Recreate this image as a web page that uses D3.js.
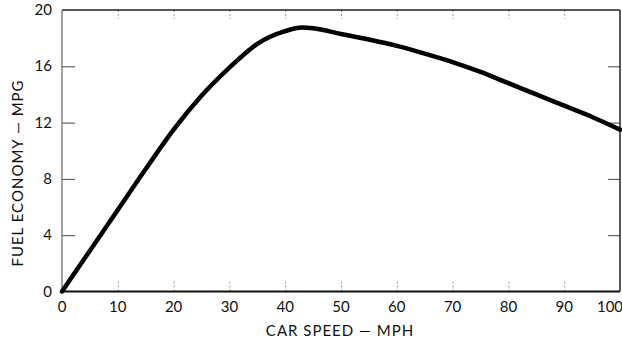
<!DOCTYPE html>
<html>
<head>
<meta charset="utf-8" />
<title>Fuel economy vs car speed</title>
<style>
  body { margin: 0; background: #fff; }
  svg text { font-family: "Lato", "DejaVu Sans", sans-serif; fill: #111; }
</style>
</head>
<body>
<svg width="622" height="343"></svg>
<script src="https://cdn.jsdelivr.net/npm/d3@7"></script>
<script>
// values
var speeds = [0, 5, 10, 15, 20, 25, 30, 35, 40, 43, 45, 50, 55, 60, 65, 70, 75, 80, 85, 90, 95, 100];
var mpg    = [0, 2.9, 5.8, 8.7, 11.5, 13.9, 15.9, 17.6, 18.5, 18.75, 18.7, 18.3, 17.9, 17.45, 16.9, 16.3, 15.6, 14.8, 14.0, 13.2, 12.4, 11.5];
var xTicks = [0, 10, 20, 30, 40, 50, 60, 70, 80, 90, 100];
var yTicks = [0, 4, 8, 12, 16, 20];
var xTitle = "CAR SPEED \u2014 MPH";
var yTitle = "FUEL ECONOMY \u2014 MPG";

// plot box (window.top is reserved, so use other names)
var pLeft = 62, pRight = 620, pTop = 10, pBottom = 291.5;

var svg = d3.select("svg");

var x = d3.scaleLinear().domain([0, 100]).range([pLeft, pRight]);
var y = d3.scaleLinear().domain([0, 20]).range([pBottom, pTop]);

// inner tick marks (faint on top/bottom, solid on sides)
var inner = [10, 20, 30, 40, 50, 60, 70, 80, 90];
var innerY = [4, 8, 12, 16];

svg.append("g")
    .attr("transform", "translate(0," + pBottom + ")")
    .call(d3.axisBottom(x).tickValues(inner).tickSize(-10).tickFormat(""))
    .call(function (g) { g.select(".domain").remove(); })
    .selectAll("line").attr("stroke", "#999").attr("stroke-dasharray", "2,2");

svg.append("g")
    .attr("transform", "translate(0," + pTop + ")")
    .call(d3.axisTop(x).tickValues(inner).tickSize(-9).tickFormat(""))
    .call(function (g) { g.select(".domain").remove(); })
    .selectAll("line").attr("stroke", "#999").attr("stroke-dasharray", "2,2");

svg.append("g")
    .attr("transform", "translate(" + pLeft + ",0)")
    .call(d3.axisLeft(y).tickValues(innerY).tickSize(-13).tickFormat(""))
    .call(function (g) { g.select(".domain").remove(); })
    .selectAll("line").attr("stroke", "#444");

svg.append("g")
    .attr("transform", "translate(" + pRight + ",0)")
    .call(d3.axisRight(y).tickValues(innerY).tickSize(-12).tickFormat(""))
    .call(function (g) { g.select(".domain").remove(); })
    .selectAll("line").attr("stroke", "#444");

// frame
svg.append("line").attr("x1", pLeft).attr("x2", pRight).attr("y1", pTop).attr("y2", pTop)
    .attr("stroke", "#222").attr("stroke-width", 1.5);
svg.append("line").attr("x1", pLeft).attr("x2", pRight).attr("y1", pBottom).attr("y2", pBottom)
    .attr("stroke", "#111").attr("stroke-width", 2);
svg.append("line").attr("x1", pLeft).attr("x2", pLeft).attr("y1", pTop).attr("y2", pBottom)
    .attr("stroke", "#666").attr("stroke-width", 1.2);
svg.append("line").attr("x1", pRight).attr("x2", pRight).attr("y1", pTop).attr("y2", pBottom)
    .attr("stroke", "#222").attr("stroke-width", 1.5);

// tick labels
svg.append("g").selectAll("text")
    .data(xTicks)
    .enter()
    .append("text")
    .attr("x", function (d) { return d === 100 ? x(d) - 10 : x(d); })
    .attr("y", 312)
    .attr("text-anchor", "middle")
    .attr("font-size", 15)
    .text(function (d) { return d; });

svg.append("g").selectAll("text")
    .data(yTicks)
    .enter()
    .append("text")
    .attr("x", 52)
    .attr("y", function (d) { return y(d) + 5; })
    .attr("text-anchor", "end")
    .attr("font-size", 15)
    .text(function (d) { return d; });

// axis titles
svg.append("text")
    .attr("x", 340)
    .attr("y", 336)
    .attr("text-anchor", "middle")
    .attr("font-size", 15)
    .attr("letter-spacing", 1)
    .text(xTitle);

svg.append("text")
    .attr("transform", "translate(23,173) rotate(-90)")
    .attr("text-anchor", "middle")
    .attr("font-size", 15)
    .attr("letter-spacing", 1)
    .text(yTitle);

// the curve
var pts = speeds.map(function (s, i) { return [s, mpg[i]]; });
var line = d3.line()
    .x(function (d) { return x(d[0]); })
    .y(function (d) { return y(d[1]); })
    .curve(d3.curveMonotoneX);

svg.append("path")
    .datum(pts)
    .attr("d", line)
    .attr("fill", "none")
    .attr("stroke", "#000")
    .attr("stroke-width", 4.5)
    .attr("stroke-linecap", "round");
</script>
</body>
</html>
